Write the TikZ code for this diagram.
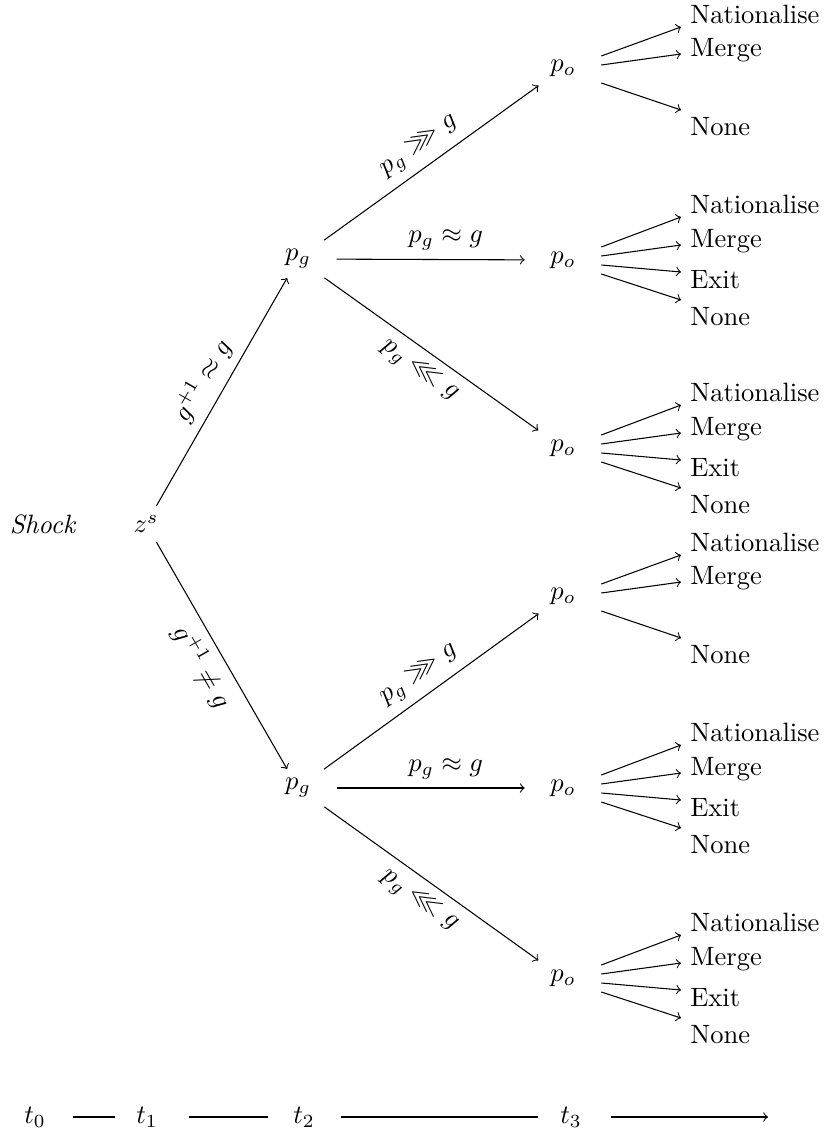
\documentclass[tikz,border=0pt]{standalone}
\usepackage{amssymb}
\usetikzlibrary{calc}
\tikzset{
  pnode/.style={inner xsep=9.5pt},
  outn/.style={anchor=west},
  arr/.style={->}
}
\newcommand{\fourout}[1]{%
  \node[outn] (#1-nat) at ($(#1)+(118,-56)$) {Nationalise};
  \node[outn] (#1-mer) at ($(#1)+(118,-19)$) {Merge};
  \node[outn] (#1-exi) at ($(#1)+(118,20)$) {Exit};
  \node[outn] (#1-non) at ($(#1)+(118,57)$) {None};
  \draw[arr] ($(#1.east)+(0,-13)$) -- ($(#1-nat.west)+(0,13)$);
  \draw[arr] ($(#1.east)+(0,-4)$) -- ($(#1-mer.west)+(0,4)$);
  \draw[arr] ($(#1.east)+(0,5)$) -- ($(#1-exi.west)+(0,-8)$);
  \draw[arr] ($(#1.east)+(0,14)$) -- ($(#1-non.west)+(0,-17)$);
}
\newcommand{\threeout}[1]{%
  \node[outn] (#1-nat) at ($(#1)+(118,-54)$) {Nationalise};
  \node[outn] (#1-mer) at ($(#1)+(118,-18)$) {Merge};
  \node[outn] (#1-non) at ($(#1)+(118,59)$) {None};
  \draw[arr] ($(#1.east)+(0,-12)$) -- ($(#1-nat.west)+(0,13)$);
  \draw[arr] ($(#1.east)+(0,-3)$) -- ($(#1-mer.west)+(0,4)$);
  \draw[arr] ($(#1.east)+(0,15)$) -- ($(#1-non.west)+(0,-17)$);
}
\begin{document}
\begin{tikzpicture}[x=0.377pt,y=-0.377pt]
\useasboundingbox (0,0) rectangle (824,1145);

% main nodes
\node (sh) at (43,524) {\textit{Shock}};
\node (zs) at (146,524) {$z^s$};
\node[pnode] (pg1) at (298,259) {$p_g$};
\node[pnode] (pg2) at (298,788) {$p_g$};
\node[pnode] (po1) at (563,68) {$p_o$};
\node[pnode] (po2) at (563,260) {$p_o$};
\node[pnode] (po3) at (563,448) {$p_o$};
\node[pnode] (po4) at (563,596) {$p_o$};
\node[pnode] (po5) at (563,788) {$p_o$};
\node[pnode] (po6) at (563,978) {$p_o$};

% edges from z^s
\draw[arr] (zs) -- node[sloped, above, pos=0.5] {$g^{+1} \approx g$} (pg1);
\draw[arr] (zs) -- node[sloped, below, pos=0.5] {$g^{+1} \neq g$} (pg2);

% edges from p_g
\draw[arr] (pg1) -- node[sloped, above, pos=0.5] {$p_g \ggg g$} (po1);
\draw[arr] (pg1) -- node[above, pos=0.58] {$p_g \approx g$} (po2);
\draw[arr] (pg1) -- node[sloped, below, pos=0.5] {$p_g \lll g$} (po3);
\draw[arr] (pg2) -- node[sloped, above, pos=0.5] {$p_g \ggg g$} (po4);
\draw[arr] (pg2) -- node[above, pos=0.58] {$p_g \approx g$} (po5);
\draw[arr] (pg2) -- node[sloped, below, pos=0.5] {$p_g \lll g$} (po6);

% outcomes
\threeout{po1}
\fourout{po2}
\fourout{po3}
\threeout{po4}
\fourout{po5}
\fourout{po6}

% timeline
\node (t0) at (35,1117) {$t_0$};
\node (t1) at (147,1117) {$t_1$};
\node (t2) at (304,1117) {$t_2$};
\node (t3) at (571,1117) {$t_3$};
\coordinate (tend) at (768,1117);
\draw ($(t0)+(38,0)$) -- ($(t1)+(-32,0)$);
\draw ($(t1)+(42,0)$) -- ($(t2)+(-36,0)$);
\draw ($(t2)+(37,0)$) -- ($(t3)+(-33,0)$);
\draw[arr] ($(t3)+(40,0)$) -- (tend);
\end{tikzpicture}
\end{document}
